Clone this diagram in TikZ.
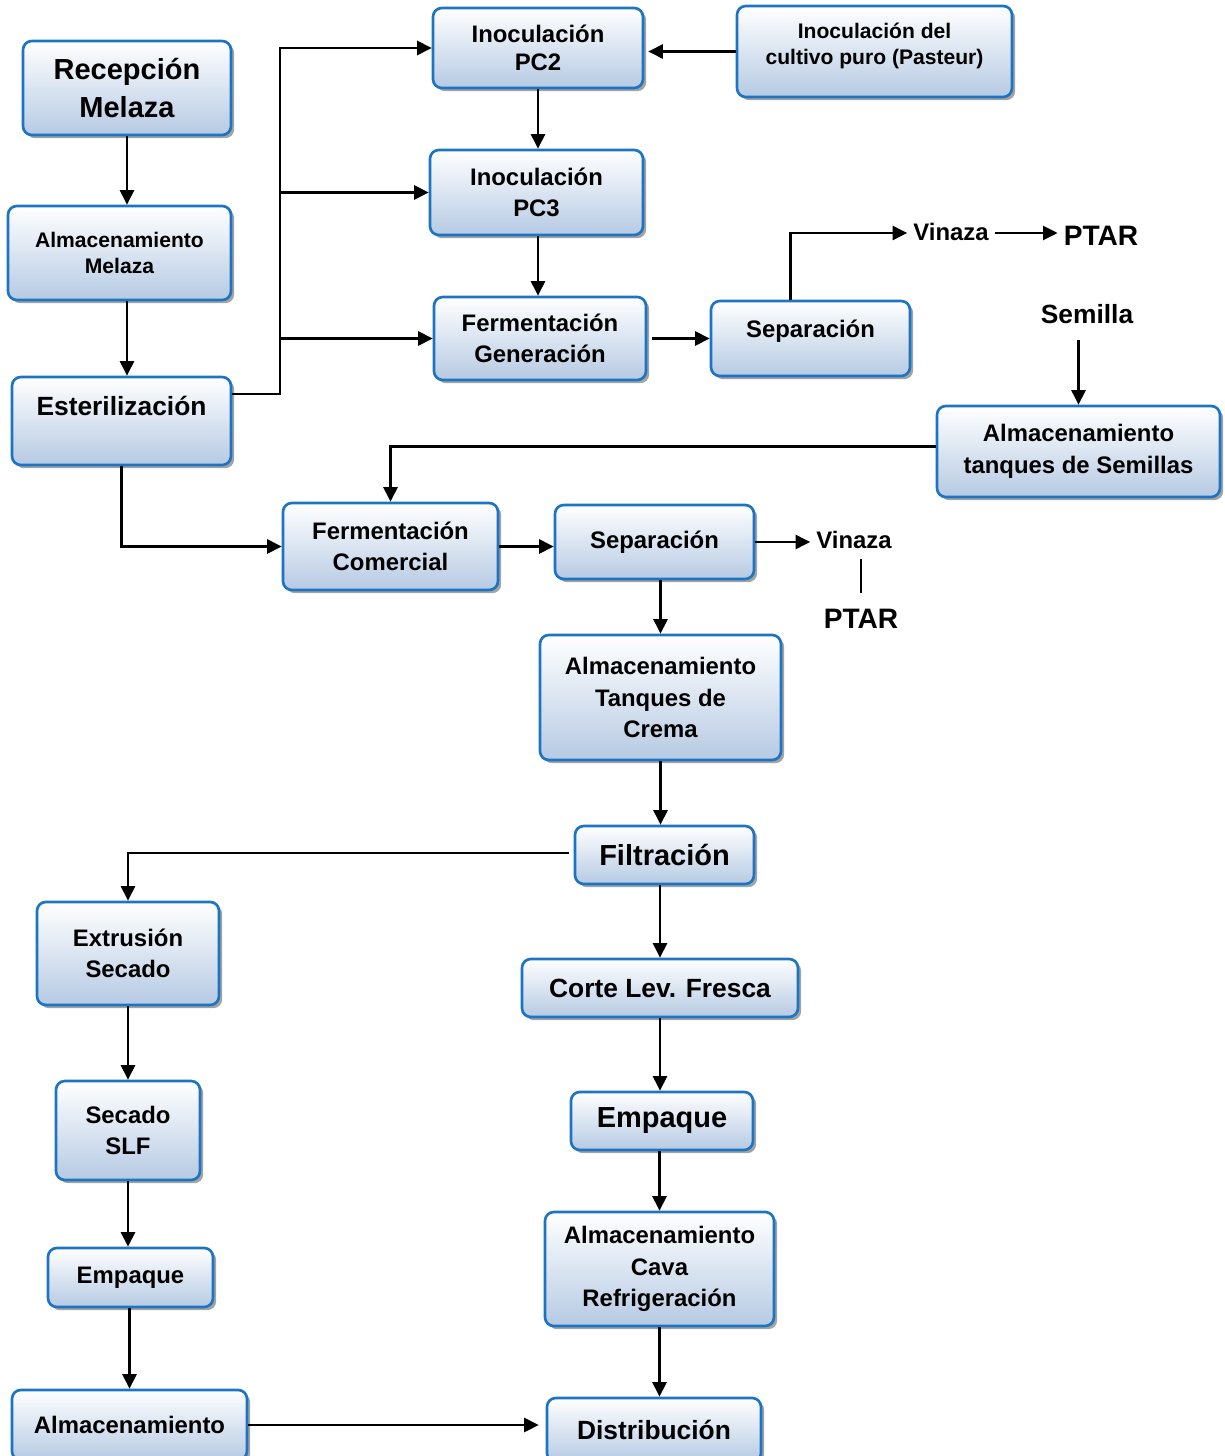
\documentclass[tikz,border=0pt]{standalone}
\usepackage{fontspec}
\setmainfont{Liberation Sans}
\usepackage{xcolor}
\usetikzlibrary{arrows.meta,positioning,shadows,calc}
\definecolor{boxline}{HTML}{1C74C2}
\definecolor{boxfill}{HTML}{B6CAE3}
\definecolor{shadc}{HTML}{8C8C8C}
\tikzset{
  box/.style={draw=boxline,line width=1.5pt,rounded corners=5pt,top color=white,bottom color=boxfill,
    align=center,inner sep=2pt,drop shadow={shadow xshift=1.8pt,shadow yshift=-1.8pt,fill=shadc,opacity=0.8}},
  ar/.style={-{Triangle[length=2.9mm,width=2.8mm]},line width=1.35pt,black},
  ln/.style={line width=1.35pt,black},
  txtL/.style={font=\fontsize{16.5}{21.5}\selectfont\bfseries},
  txtM/.style={font=\fontsize{15}{18}\selectfont\bfseries},
  txtN/.style={font=\fontsize{13.6}{18}\selectfont\bfseries},
  txtS/.style={font=\fontsize{12}{15}\selectfont\bfseries}
}
\begin{document}
\begin{tikzpicture}[x=0.02cm,y=-0.02cm]
\useasboundingbox (0,0) rectangle (1224,1456);
% left column
\node[box,txtL,minimum width=4.16cm,minimum height=1.88cm] (recep) at (127,88) {Recepción\\Melaza};
\node[box,txtS,minimum width=4.46cm,minimum height=1.88cm,font=\fontsize{12}{14.7}\selectfont\bfseries] (almMel) at (119.5,253) {Almacenamiento\\Melaza};
\node[box,txtM,minimum width=4.38cm,minimum height=1.76cm,text depth=17pt] (ester) at (121.5,421) {Esterilización};
% inoculation
\node[box,txtN,minimum width=4.2cm,minimum height=1.6cm,font=\fontsize{13.6}{15.9}\selectfont\bfseries] (pc2) at (538,48) {Inoculación\\PC2};
\node[box,txtS,minimum width=5.5cm,minimum height=1.82cm,text depth=9pt] (pasteur) at (874.5,51.5) {Inoculación del\\cultivo puro (Pasteur)};
\node[box,txtN,minimum width=4.26cm,minimum height=1.7cm] (pc3) at (536.5,192.5) {Inoculación\\PC3};
\node[box,txtN,minimum width=4.24cm,minimum height=1.66cm] (fermGen) at (540,338.5) {Fermentación\\Generación};
\node[box,txtN,minimum width=3.98cm,minimum height=1.5cm,text depth=11pt] (sep1) at (810.5,338.5) {Separación};
\node[box,txtN,minimum width=5.66cm,minimum height=1.82cm] (almSem) at (1078.5,451.5) {Almacenamiento\\tanques de Semillas};
% commercial
\node[box,txtN,minimum width=4.3cm,minimum height=1.74cm] (fermCom) at (390.5,546.5) {Fermentación\\Comercial};
\node[box,txtN,minimum width=3.98cm,minimum height=1.48cm] (sep2) at (654.5,542) {Separación};
\node[box,txtN,minimum width=4.82cm,minimum height=2.5cm] (crema) at (660.5,697.5) {Almacenamiento\\Tanques de\\Crema};
\node[box,txtL,minimum width=3.58cm,minimum height=1.16cm] (filt) at (664.5,855) {Filtración};
% dry line
\node[box,txtN,minimum width=3.64cm,minimum height=2.06cm] (extr) at (128,953.5) {Extrusión\\Secado};
\node[box,txtN,minimum width=2.88cm,minimum height=1.98cm] (secado) at (128,1130.5) {Secado\\SLF};
\node[box,txtN,minimum width=3.3cm,minimum height=1.18cm] (empL) at (130.5,1277.5) {Empaque};
\node[box,txtN,minimum width=4.7cm,minimum height=1.4cm] (almac) at (129.5,1425) {Almacenamiento};
% fresh line
\node[box,txtM,minimum width=5.52cm,minimum height=1.16cm] (corte) at (660,988) {Corte Lev. Fresca};
\node[box,txtL,minimum width=3.64cm,minimum height=1.16cm] (empR) at (662,1121) {Empaque};
\node[box,txtN,minimum width=4.58cm,minimum height=2.28cm] (cava) at (659.5,1269) {Almacenamiento\\Cava\\Refrigeración};
\node[box,txtM,minimum width=4.28cm,minimum height=1.28cm] (distr) at (654,1430) {Distribución};
% free labels
\node[txtN] (vin1) at (951,232) {Vinaza};
\node[txtL,font=\fontsize{16}{19}\selectfont\bfseries] (ptar1) at (1101,236) {PTAR};
\node[txtM] (semilla) at (1087,314) {Semilla};
\node[txtN] (vin2) at (854,540) {Vinaza};
\node[txtL,font=\fontsize{16}{19}\selectfont\bfseries] (ptar2) at (861,619) {PTAR};
% connectors
\coordinate (bus) at (280,394);
\draw[ar] (recep.south) -- (recep.south |- almMel.north);
\draw[ar] (recep.south |- almMel.south) -- (recep.south |- ester.north);
\draw[ar] (ester.east |- bus) -- (bus) |- (pc2.west);
\draw[ar] (bus |- pc3.west) -- (pc3.west);
\draw[ar] (bus |- fermGen.west) -- (fermGen.west);
\draw[ar] (pasteur.west) -- ([xshift=0.08cm]pasteur.west -| pc2.east);
\draw[ar] (pc2.south) -- (pc2.south |- pc3.north);
\draw[ar] (pc2.south |- pc3.south) -- (pc2.south |- fermGen.north);
\draw[ar] ([xshift=0.1cm]fermGen.east) -- (sep1.west);
\draw[ar] ([xshift=-0.4cm]sep1.north) |- ([yshift=-0.02cm]vin1.west);
\draw[ar] ([yshift=-0.02cm]vin1.east) -- ([yshift=-0.02cm]vin1.east -| ptar1.west);
\draw[ar] ([yshift=-0.2cm]semilla.south -| almSem.north) -- (almSem.north);
\draw[ar] ([yshift=0.1cm]almSem.west) -| (fermCom.north);
\draw[ar] (ester.south) |- (fermCom.west);
\draw[ar] (fermCom.east) -- (fermCom.east -| sep2.west);
\draw[ar] (sep2.east) -- (sep2.east -| vin2.west);
\draw[ln] ([yshift=-0.08cm]vin2.south -| ptar2.north) -- ([yshift=0.2cm]ptar2.north);
\draw[ar] (crema.north |- sep2.south) -- (crema.north);
\draw[ar] (crema.south) -- (crema.south |- filt.north);
\draw[ar] ([xshift=-0.1cm,yshift=0.04cm]filt.west) -| (extr.north);
\draw[ar] (filt.south -| corte.north) -- (corte.north);
\draw[ar] (extr.south) -- (secado.north);
\draw[ar] (corte.south) -- (corte.south |- empR.north);
\draw[ar] (secado.south) -- (secado.south |- empL.north);
\draw[ar] (cava.north |- empR.south) -- (cava.north);
\draw[ar] (almac.north |- empL.south) -- (almac.north);
\draw[ar] (cava.south) -- (cava.south |- distr.north);
\draw[ar] (almac.east) -- ([xshift=-0.14cm]almac.east -| distr.west);
\end{tikzpicture}
\end{document}
